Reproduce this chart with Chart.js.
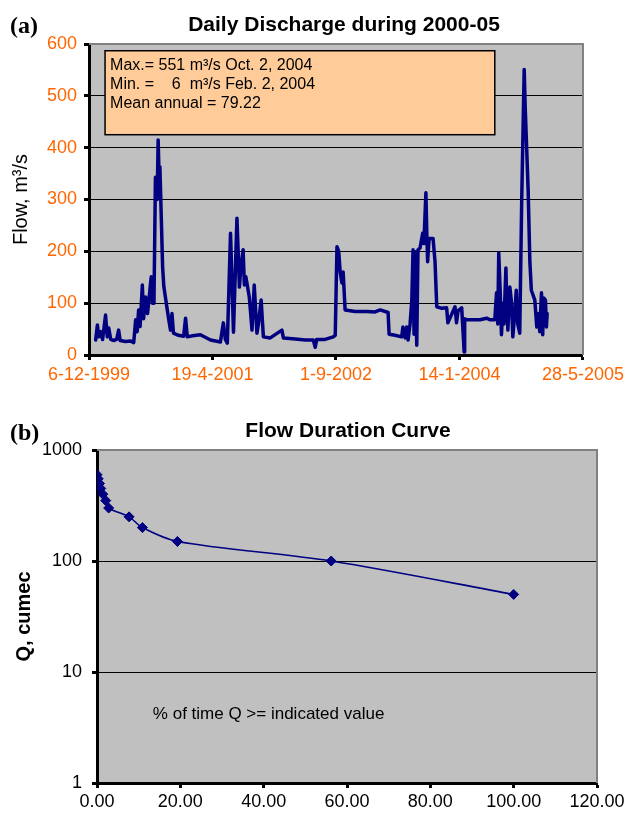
<!DOCTYPE html>
<html>
<head>
<meta charset="utf-8">
<script src="https://cdn.jsdelivr.net/npm/chart.js@4.4.1/dist/chart.umd.min.js"></script>
<style>
  html, body { margin:0; padding:0; background:#fff; }
  canvas { position:absolute; left:0; }
  #c1 { top:0; }
  #c2 { top:400px; }
</style>
</head>
<body>
<canvas id="c1" width="628" height="400"></canvas>
<canvas id="c2" width="628" height="414"></canvas>
<script>
// ---------- Data (a): daily discharge, days counted from 6-12-1999 ----------
const dischargeDays = [27,34,39,47,55,67,74,80,88,100,112,120,126,148,168,181,189,195,201,207,216,221,229,237,252,257,263,269,276,280,284,287,293,298,303,317,324,330,336,342,362,383,391,398,419,451,492,532,544,552,560,573,585,599,609,615,624,629,635,649,660,669,680,686,697,706,734,781,787,835,876,908,916,922,956,989,997,1004,1011,1017,1024,1029,1037,1078,1125,1158,1179,1211,1215,1239,1266,1271,1280,1286,1292,1300,1307,1312,1316,1320,1327,1332,1340,1351,1356,1364,1368,1371,1377,1393,1401,1408,1429,1448,1453,1465,1482,1488,1494,1509,1519,1521,1529,1583,1610,1623,1643,1650,1655,1659,1665,1670,1676,1680,1688,1692,1696,1704,1711,1716,1724,1730,1736,1744,1752,1762,1766,1772,1778,1785,1791,1805,1813,1821,1825,1832,1837,1841,1848,1852,1855];
const dischargeFlow = [29,58,35,45,30,77,35,52,30,28,30,48,28,
  26,27,24,68,45,87,55,135,70,112,80,151,100,100,
  343,300,415,340,363,260,170,132,87,65,48,80,42,
  38,36,71,35,37,39,29,25,62,30,23,
  235,44,264,131,170,203,135,151,112,48,135,42,60,106,35,
  33,48,33,31,29,29,15,30,30,35,38,
  209,200,160,139,160,87,84,84,83,87,82,40,38,
  35,54,33,54,29,60,106,203,40,199,19,203,206,
  235,215,313,230,180,225,225,180,93,90,91,62,75,93,62,85,91,
  6,70,68,68,71,68,68,
  120,60,197,120,39,100,60,168,90,48,131,100,35,80,125,60,42,300,
  551,480,400,318,180,125,106,54,80,45,120,39,110,106,54,80];
const xTickDaysA = [0, 500, 1000, 1500, 2000];
const xTickLabelsA = ['6-12-1999', '19-4-2001', '1-9-2002', '14-1-2004', '28-5-2005'];
const yTicksA = [0, 100, 200, 300, 400, 500, 600];
const noteLinesA = ['Max.= 551 m\u00b3/s Oct. 2, 2004', 'Min. =    6  m\u00b3/s Feb. 2, 2004', 'Mean annual = 79.22'];

// ---------- Data (b): flow duration curve ----------
const fdcPercent = [0, 0.3, 0.6, 0.9, 1.4, 2.1, 2.8, 7.7, 10.9, 19.3, 56.2, 100];
const fdcQ = [600, 550, 500, 450, 400, 350, 300, 250, 200, 150, 100, 50];
const yTicksB = [1, 10, 100, 1000];
const xTicksB = [0, 20, 40, 60, 80, 100, 120];

const SANS = "'Liberation Sans', Arial, sans-serif";
const SERIF = "'Liberation Serif', 'Times New Roman', serif";
const ORANGE = '#FF6600';
const NAVY = '#000080';

// ---------- Plugins ----------
const plotFrame = {
  id: 'plotFrame',
  beforeDraw(chart){
    const { ctx, chartArea: a } = chart;
    ctx.save();
    ctx.fillStyle = '#fff';
    ctx.fillRect(0, 0, chart.width, chart.height);
    ctx.fillStyle = '#c0c0c0';
    ctx.fillRect(a.left, a.top, a.right - a.left, a.bottom - a.top);
    ctx.restore();
  },
  beforeDatasetsDraw(chart){
    const { ctx, chartArea: a } = chart;
    ctx.save();
    ctx.strokeStyle = '#808080';
    ctx.lineWidth = 2;
    ctx.beginPath();
    ctx.moveTo(a.left, a.top);
    ctx.lineTo(a.right, a.top);
    ctx.lineTo(a.right, a.bottom);
    ctx.stroke();
    ctx.restore();
  }
};

function textPlugin(tag, title, tagBase, titleX, titleBase){
  return {
    id: 'texts',
    afterDraw(chart){
      const ctx = chart.ctx;
      ctx.save();
      ctx.fillStyle = '#000';
      ctx.textBaseline = 'alphabetic';
      ctx.font = 'bold 24px ' + SERIF;
      ctx.textAlign = 'left';
      ctx.fillText(tag, 10, tagBase);
      ctx.font = 'bold 21px ' + SANS;
      ctx.textAlign = 'center';
      ctx.fillText(title, titleX, titleBase);
      ctx.restore();
    }
  };
}

// note box of chart (a), placed in data units
const noteBox = {
  id: 'noteBox',
  afterDatasetsDraw(chart){
    const { ctx, scales: { x, y } } = chart;
    const l = x.getPixelForValue(65), r = x.getPixelForValue(1643);
    const t = y.getPixelForValue(587), b = y.getPixelForValue(425);
    ctx.save();
    ctx.fillStyle = '#FFCC99';
    ctx.fillRect(l, t, r - l, b - t);
    ctx.strokeStyle = '#000';
    ctx.lineWidth = 1.5;
    ctx.strokeRect(l, t, r - l, b - t);
    ctx.fillStyle = '#000';
    ctx.font = '16px ' + SANS;
    ctx.textAlign = 'left';
    noteLinesA.forEach((s, i) => ctx.fillText(s, l + 5, t + 19 + i * 19));
    ctx.restore();
  }
};

const fdcNote = {
  id: 'fdcNote',
  afterDatasetsDraw(chart){
    const { ctx, scales: { x, y } } = chart;
    ctx.save();
    ctx.fillStyle = '#000';
    ctx.font = '17px ' + SANS;
    ctx.textAlign = 'left';
    ctx.textBaseline = 'middle';
    ctx.fillText('% of time Q >= indicated value', x.getPixelForValue(13.4), y.getPixelForValue(4.2));
    ctx.restore();
  }
};

const tickGrid = (topVal) => ({
  color: c => (c.tick && c.tick.value === topVal) ? 'rgba(0,0,0,0)' : '#000',
  lineWidth: 1,
  tickColor: '#000',
  tickLength: 5,
  tickWidth: 3
});

// ---------- Chart (a) ----------
new Chart(document.getElementById('c1'), {
  type: 'line',
  data: {
    datasets: [{
      data: dischargeDays.map((d, i) => ({ x: d, y: dischargeFlow[i] })),
      borderColor: NAVY,
      borderWidth: 3.5,
      pointRadius: 0,
      tension: 0,
      borderJoinStyle: 'round',
      borderCapStyle: 'round'
    }]
  },
  options: {
    responsive: false,
    animation: false,
    layout: { padding: { top: 44, right: 45, left: 0, bottom: 0 } },
    plugins: { legend: { display: false }, tooltip: { enabled: false } },
    scales: {
      x: {
        type: 'linear', min: 0, max: 2000,
        afterBuildTicks: s => { s.ticks = xTickDaysA.map(v => ({ value: v })); },
        afterFit: s => { s.height = 45; },
        ticks: { callback: (v, i) => xTickLabelsA[i], color: ORANGE, font: { family: SANS, size: 18 }, maxRotation: 0, padding: 4 },
        grid: { drawOnChartArea: false, tickColor: '#000', tickLength: 5, tickWidth: 3 },
        border: { color: '#000', width: 3 }
      },
      y: {
        min: 0, max: 600,
        afterBuildTicks: s => { s.ticks = yTicksA.map(v => ({ value: v })); },
        afterFit: s => { s.width = 89; },
        ticks: { color: ORANGE, font: { family: SANS, size: 18 }, padding: 7 },
        grid: tickGrid(600),
        border: { color: '#000', width: 3 },
        title: { display: true, text: 'Flow, m\u00b3/s', color: '#000', font: { family: SANS, size: 20 }, padding: { top: 9, bottom: 0 } }
      }
    }
  },
  plugins: [plotFrame, noteBox, textPlugin('(a)', 'Daily Discharge during 2000-05', 33, 344, 31)]
});

// ---------- Chart (b) ----------
new Chart(document.getElementById('c2'), {
  type: 'line',
  data: {
    datasets: [{
      data: fdcPercent.map((p, i) => ({ x: p, y: fdcQ[i] })),
      borderColor: NAVY,
      backgroundColor: NAVY,
      borderWidth: 1.6,
      tension: 0.3,
      pointStyle: 'rectRot',
      pointRadius: 5,
      pointBorderWidth: 1
    }]
  },
  options: {
    responsive: false,
    animation: false,
    layout: { padding: { top: 50, right: 31, left: 0, bottom: 0 } },
    plugins: { legend: { display: false }, tooltip: { enabled: false } },
    scales: {
      x: {
        type: 'linear', min: 0, max: 120,
        afterBuildTicks: s => { s.ticks = xTicksB.map(v => ({ value: v })); },
        afterFit: s => { s.height = 31; },
        ticks: { callback: v => v.toFixed(2), color: '#000', font: { family: SANS, size: 18 }, maxRotation: 0, padding: 3 },
        grid: { drawOnChartArea: false, tickColor: '#000', tickLength: 5, tickWidth: 3 },
        border: { color: '#000', width: 3 }
      },
      y: {
        type: 'logarithmic', min: 1, max: 1000,
        afterBuildTicks: s => { s.ticks = yTicksB.map(v => ({ value: v })); },
        afterFit: s => { s.width = 97; },
        ticks: { callback: v => String(v), color: '#000', font: { family: SANS, size: 18 }, padding: 10 },
        grid: tickGrid(1000),
        border: { color: '#000', width: 3 },
        title: { display: true, text: 'Q, cumec', color: '#000', font: { family: SANS, size: 20, weight: 'bold' }, padding: { top: 12, bottom: 0 } }
      }
    }
  },
  plugins: [plotFrame, fdcNote, textPlugin('(b)', 'Flow Duration Curve', 40, 348, 37)]
});
</script>
</body>
</html>
